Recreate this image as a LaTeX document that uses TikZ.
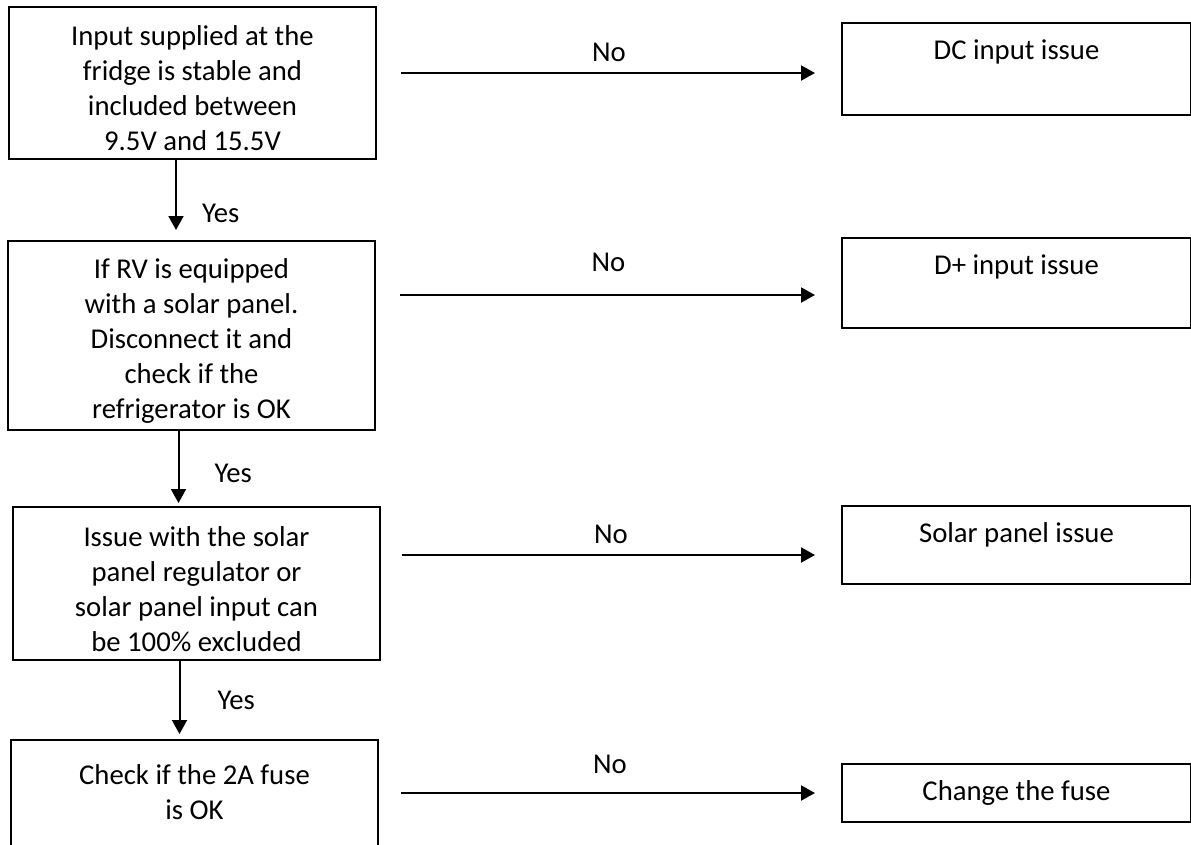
\documentclass[tikz,border=0pt]{standalone}
\usepackage{fontspec}
\setmainfont{Carlito}
\usetikzlibrary{positioning, arrows.meta}
\newcommand{\topgap}{\rule{0pt}{31pt}}

\begin{document}
\begin{tikzpicture}[
      x=1pt, y=-1pt,
      font=\fontsize{28.7}{35}\selectfont,
      check/.style={draw, line width=2pt, anchor=north west, minimum width=367pt, align=center, inner sep=0pt},
      issue/.style={draw, line width=2pt, anchor=north west, minimum width=349pt, inner sep=0pt, text height=36pt},
      flow/.style={line width=2pt, -{Triangle[length=14pt, width=15pt]}},
      answer/.style={inner sep=0pt}
    ]
    \clip (0,0) rectangle (1191,844);
    % checks on the left
    \node[check, minimum height=152pt] (q1) at (8,6) {\topgap Input supplied at the\\fridge is stable and\\included between\\9.5V and 15.5V};
    \node[check, minimum height=189pt] (q2) at (7,240) {\topgap If RV is equipped\\with a solar panel.\\Disconnect it and\\check if the\\refrigerator is OK};
    \node[check, minimum height=153pt] (q3) at (12,506) {\topgap Issue with the solar\\panel regulator or\\solar panel input can\\be 100\% excluded};
    \node[check, minimum height=152pt] (q4) at (10,739) {\topgap Check if the 2A fuse\\is OK\\[25pt]};
    % outcomes on the right
    \node[issue, text depth=56pt] (a1) at (841,22) {DC input issue};
    \node[issue, text depth=54pt] (a2) at (841,237) {D+ input issue};
    \node[issue, text depth=42pt] (a3) at (841,505) {Solar panel issue};
    \node[issue, text depth=22pt] (a4) at (841,763) {Change the fuse};
    % yes
    \draw[flow, shorten >=10pt] ([xshift=-16.5pt]q1.south) -- ([xshift=-16.5pt]q1.south |- q2.north)
      node[answer, pos=0.67, right=25pt] {Yes};
    \draw[flow, shorten >=3pt] ([xshift=-13pt]q2.south) -- ([xshift=-13pt]q2.south |- q3.north)
      node[answer, pos=0.56, right=35pt] {Yes};
    \draw[flow, shorten >=5pt] ([xshift=-17pt]q3.south) -- ([xshift=-17pt]q3.south |- q4.north)
      node[answer, pos=0.51, right=37pt] {Yes};
    % no
    \draw[flow, shorten <=24pt, shorten >=26pt] ([yshift=-4pt]a1.west -| q1.east) -- ([yshift=-4pt]a1.west)
      node[answer, midway, above=10pt] {No};
    \draw[flow, shorten <=24pt, shorten >=26pt] ([yshift=-12pt]a2.west -| q2.east) -- ([yshift=-12pt]a2.west)
      node[answer, midway, above=22pt] {No};
    \draw[flow, shorten <=21pt, shorten >=26pt] ([yshift=-10pt]a3.west -| q3.east) -- ([yshift=-10pt]a3.west)
      node[answer, midway, above=10pt] {No};
    \draw[flow, shorten <=22pt, shorten >=26pt] (a4.west -| q4.east) -- (a4.west)
      node[answer, midway, above=18pt] {No};
\end{tikzpicture}
\end{document}
